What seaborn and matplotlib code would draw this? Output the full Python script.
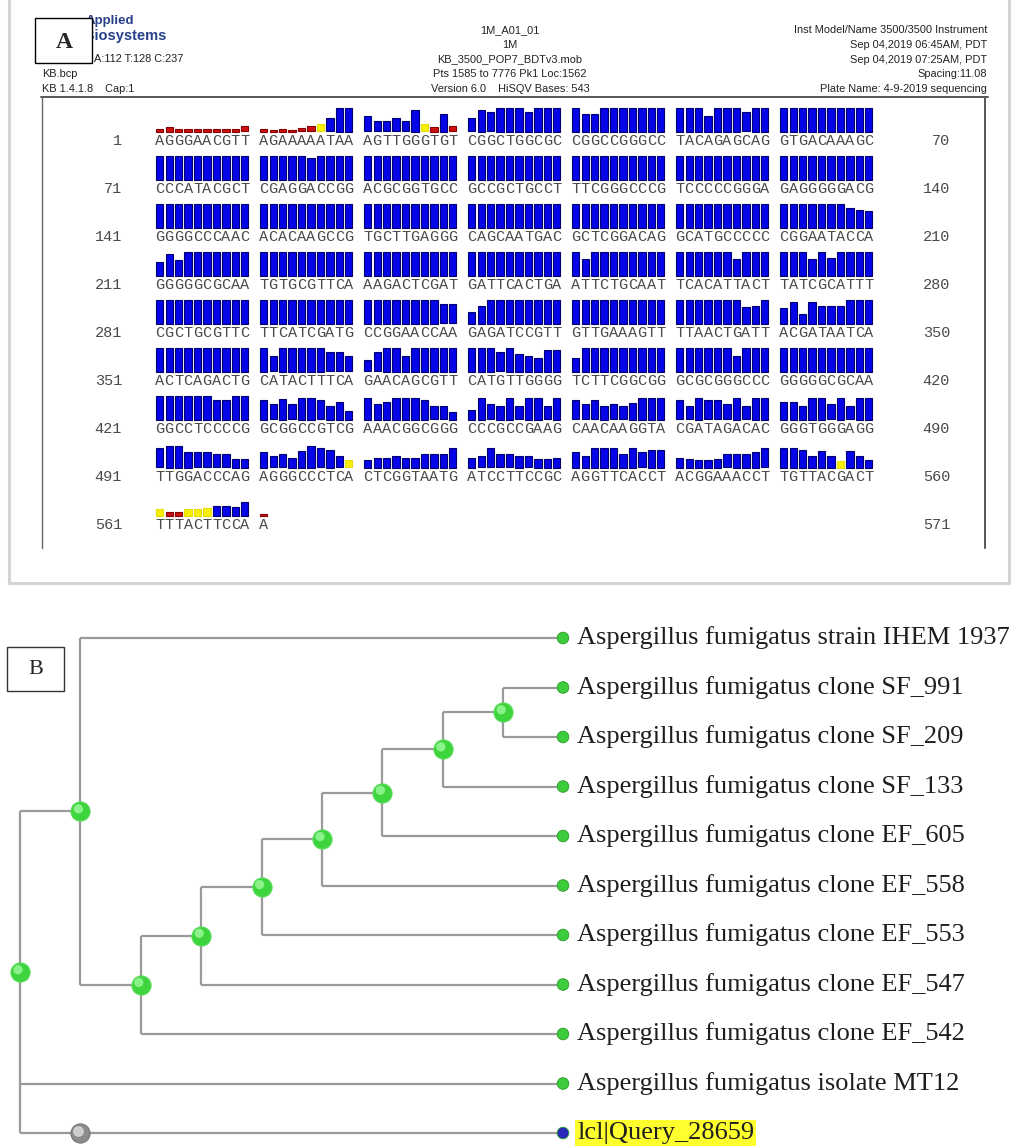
import numpy as np
import pandas as pd
import matplotlib
matplotlib.use("Agg")
import matplotlib.pyplot as plt
from matplotlib.patches import Rectangle
import seaborn as sns

# ------------------------------------------------------------------
# Panel A data: header texts, base calls and per-base quality values
# ------------------------------------------------------------------
header_left = ["A:112 T:128 C:237", "KB.bcp", "KB 1.4.1.8    Cap:1"]
header_center = ["1M_A01_01", "1M", "KB_3500_POP7_BDTv3.mob",
                 "Pts 1585 to 7776 Pk1 Loc:1562", "Version 6.0    HiSQV Bases: 543"]
header_right = ["Inst Model/Name 3500/3500 Instrument", "Sep 04,2019 06:45AM, PDT",
                "Sep 04,2019 07:25AM, PDT", "Spacing:11.08", "Plate Name: 4-9-2019 sequencing"]

seq_rows = [
    "AGGGAACGTT AGAAAAATAA AGTTGGGTGT CGGCTGGCGC CGGCCGGGCC TACAGAGCAG GTGACAAAGC",
    "CCCATACGCT CGAGGACCGG ACGCGGTGCC GCCGCTGCCT TTCGGGCCCG TCCCCCGGGA GAGGGGGACG",
    "GGGGCCCAAC ACACAAGCCG TGCTTGAGGG CAGCAATGAC GCTCGGACAG GCATGCCCCC CGGAATACCA",
    "GGGGGCGCAA TGTGCGTTCA AAGACTCGAT GATTCACTGA ATTCTGCAAT TCACATTACT TATCGCATTT",
    "CGCTGCGTTC TTCATCGATG CCGGAACCAA GAGATCCGTT GTTGAAAGTT TTAACTGATT ACGATAATCA",
    "ACTCAGACTG CATACTTTCA GAACAGCGTT CATGTTGGGG TCTTCGGCGG GCGCGGGCCC GGGGGCGCAA",
    "GGCCTCCCCG GCGGCCGTCG AAACGGCGGG CCCGCCGAAG CAACAAGGTA CGATAGACAC GGGTGGGAGG",
    "TTGGACCCAG AGGGCCCTCA CTCGGTAATG ATCCTTCCGC AGGTTCACCT ACGGAAACCT TGTTACGACT",
    "TTTACTTCCA A",
]
row_start = [1, 71, 141, 211, 281, 351, 421, 491, 561]
row_end = [70, 140, 210, 280, 350, 420, 490, 560, 571]

qv_001 = [7, 12, 7, 7, 7, 7, 7, 7, 7, 14,
          7, 5, 7, 5, 8, 14, 19, 33, 60, 60,
          38, 26, 26, 33, 26, 55, 18, 12, 45, 14,
          33, 55, 48, 60, 60, 60, 50, 60, 60, 60,
          60, 45, 45, 60, 60, 60, 60, 60, 60, 60,
          60, 60, 60, 40, 60, 60, 60, 48, 60, 60,
          60, 60, 60, 60, 60, 60, 60, 60, 60, 60]
qv_071 = [60] * 10 + [60, 60, 60, 60, 60, 55, 60, 60, 60, 60] + [60] * 50
qv_141 = [60] * 60 + [60, 60, 60, 60, 60, 60, 60, 50, 45, 42]
qv_211 = ([35, 55, 40, 60, 60, 60, 60, 60, 60, 60] + [60] * 30 +
          [60, 42, 60, 60, 60, 60, 60, 60, 60, 60] +
          [60, 60, 60, 60, 60, 60, 42, 60, 60, 60] +
          [60, 60, 60, 42, 60, 45, 60, 60, 60, 60])
qv_281 = ([60] * 20 +
          [60, 60, 60, 60, 60, 60, 60, 60, 48, 48] +
          [30, 45, 60, 60, 60, 60, 60, 60, 60, 60] +
          [60] * 10 +
          [60, 60, 60, 60, 60, 60, 60, 42, 45, 60] +
          [40, 55, 25, 55, 45, 45, 45, 60, 60, 60])
qv_351 = ([60] * 10 +
          [60, 38, 60, 60, 60, 60, 60, 48, 48, 38] +
          [28, 48, 60, 60, 40, 60, 60, 60, 60, 60] +
          [60, 60, 60, 48, 60, 45, 40, 35, 55, 55] +
          [35, 60, 60, 60, 60, 60, 60, 60, 60, 60] +
          [60, 60, 60, 60, 60, 60, 40, 60, 60, 60] +
          [60] * 10)
qv_421 = [60, 60, 60, 60, 60, 60, 50, 50, 60, 60,
          50, 38, 52, 38, 55, 55, 48, 35, 45, 22,
          55, 40, 45, 55, 55, 55, 50, 33, 33, 20,
          25, 55, 38, 35, 55, 33, 55, 55, 33, 55,
          48, 38, 48, 35, 38, 33, 42, 55, 55, 55,
          48, 33, 55, 48, 48, 38, 55, 33, 55, 55,
          45, 45, 35, 55, 55, 38, 55, 33, 55, 55]
qv_491 = [48, 55, 55, 40, 38, 38, 33, 33, 22, 22,
          40, 28, 33, 25, 42, 55, 48, 45, 28, 18,
          20, 25, 25, 30, 25, 25, 35, 35, 35, 50,
          25, 28, 48, 33, 33, 30, 28, 22, 22, 25,
          40, 30, 50, 50, 50, 35, 50, 38, 45, 45,
          25, 22, 20, 20, 21, 33, 35, 35, 40, 48,
          50, 50, 45, 30, 42, 30, 17, 42, 30, 20]
qv_561 = [16, 8, 8, 16, 17, 18, 25, 25, 21, 35,
          5]
qv_rows = [qv_001, qv_071, qv_141, qv_211, qv_281, qv_351, qv_421, qv_491, qv_561]

QV_RED = 15     # below -> red
QV_YELLOW = 20  # below -> yellow, otherwise blue

# ------------------------------------------------------------------
# Panel B data: cladogram
# ------------------------------------------------------------------
leaf_names = [
    "Aspergillus fumigatus strain IHEM 1937",
    "Aspergillus fumigatus clone SF_991",
    "Aspergillus fumigatus clone SF_209",
    "Aspergillus fumigatus clone SF_133",
    "Aspergillus fumigatus clone EF_605",
    "Aspergillus fumigatus clone EF_558",
    "Aspergillus fumigatus clone EF_553",
    "Aspergillus fumigatus clone EF_547",
    "Aspergillus fumigatus clone EF_542",
    "Aspergillus fumigatus isolate MT12",
    "lcl|Query_28659",
]
tree = [[0, [[[[[[[1, 2], 3], 4], 5], 6], 7], 8]], 9, 10]
query_leaf = 10

# ------------------------------------------------------------------
sns.set_theme(style="white")
plt.rcParams["font.family"] = ["Liberation Sans", "DejaVu Sans"]

W, H = 1012, 1147
fig = plt.figure(figsize=(W / 100, H / 100), dpi=100)
ax = fig.add_axes([0, 0, 1, 1])
ax.set_xlim(0, W)
ax.set_ylim(H, 0)
ax.axis("off")

# ---------------- Panel A frame & header ----------------
GRAY_FRAME = "#d4d4d4"
ax.plot([9, 9], [0, 583], color=GRAY_FRAME, lw=2.2)
ax.plot([9, 1009], [583, 583], color=GRAY_FRAME, lw=2.2)
ax.plot([1009, 1009], [0, 583], color=GRAY_FRAME, lw=2.2)

ax.plot([41, 988], [97, 97], color="#555555", lw=1.4)
ax.plot([42, 42], [97, 548], color="#666666", lw=1.0)
ax.plot([985, 985], [97, 548], color="#555555", lw=1.4)

t_app = ax.text(86, 21, "Applied", color="#27408b", fontsize=9.5, fontweight="bold",
                ha="left", va="center", zorder=2)
clip = Rectangle((0, 19.5), 300, 30, transform=ax.transData)
t_app.set_clip_path(clip)
ax.text(84, 36, "Biosystems", color="#27408b", fontsize=10.5, fontweight="bold",
        ha="left", va="center", zorder=2)
ax.add_patch(Rectangle((35, 18), 57, 45, facecolor="white", edgecolor="black",
                       lw=1.0, zorder=5))
ax.text(64, 42, "A", fontsize=17, fontweight="bold", family="Liberation Serif",
        ha="center", va="center", zorder=6)

hl_pos = [(94, 59), (42, 74), (42, 89)]
for (x, y), t in zip(hl_pos, header_left):
    ax.text(x, y, t, fontsize=7.9, ha="left", va="center", color="#222222")
for i, t in enumerate(header_center):
    ax.text(510, 30 + i * 14.8, t, fontsize=7.9, ha="center", va="center", color="#222222")
for i, t in enumerate(header_right):
    ax.text(987, 30 + i * 14.8, t, fontsize=7.9, ha="right", va="center", color="#222222")

# ---------------- Panel A bars & bases ----------------
seq = "".join(r.replace(" ", "") for r in seq_rows)
qv = np.concatenate([np.array(q) for q in qv_rows])
df = pd.DataFrame({"base": list(seq), "qv": qv})
df["idx"] = np.arange(len(df))
df["row"] = df["idx"] // 70
df["block"] = (df["idx"] % 70) // 10
df["pos"] = df["idx"] % 10

X0, BLOCK = 155.0, 104.0
PITCH = BLOCK / 11.0
ROW0, ROWSTEP = 141.0, 48.0
PX_PER_QV = 0.4

df["x"] = X0 + df["block"] * BLOCK + (df["pos"] + 0.5) * PITCH
df["ytext"] = ROW0 + df["row"] * ROWSTEP
df["ybase"] = df["ytext"] - 9.5
df["h"] = df["qv"] * PX_PER_QV
df["cls"] = np.where(df["qv"] < QV_RED, "red", np.where(df["qv"] < QV_YELLOW, "yellow", "blue"))

fills = {"blue": "#0505e8", "red": "#cc1010", "yellow": "#f7f000"}
edges = {"blue": "#00006e", "red": "#8a0000", "yellow": "#e8dc00"}
for cls, sub in df.groupby("cls"):
    ax.bar(sub["x"], sub["h"], bottom=sub["ybase"] - sub["h"], width=7.2,
           color=fills[cls], edgecolor=edges[cls], linewidth=0.8, zorder=3)

for _, r in df.iterrows():
    ax.text(r["x"], r["ytext"], r["base"], family="Liberation Mono", fontsize=11,
            ha="center", va="center", color="#4a4a4a")

for i, (s, e) in enumerate(zip(row_start, row_end)):
    y = ROW0 + i * ROWSTEP
    ax.text(122, y, str(s), family="Liberation Mono", fontsize=11, ha="right",
            va="center", color="#4a4a4a")
    ax.text(950, y, str(e), family="Liberation Mono", fontsize=11, ha="right",
            va="center", color="#4a4a4a")

# ---------------- Panel B tree ----------------
LEAF_Y0, LEAF_DY = 638.0, 49.5
ROOT_X, DEPTH_DX = 20.0, 60.4
LEAF_X = 563.0
LINE_C = "#9a9a9a"

segments = []
internal_nodes = []


def layout(node, depth):
    if isinstance(node, int):
        return LEAF_X, LEAF_Y0 + node * LEAF_DY
    x = ROOT_X + depth * DEPTH_DX
    kids = [layout(c, depth + 1) for c in node]
    ys = [k[1] for k in kids]
    y = (ys[0] + ys[-1]) / 2
    segments.append(((x, x), (ys[0], ys[-1])))
    for kx, ky in kids:
        segments.append(((x, kx), (ky, ky)))
    internal_nodes.append((x, y))
    return x, y


layout(tree, 0)
for xs, ys in segments:
    ax.plot(xs, ys, color=LINE_C, lw=1.6, solid_capstyle="butt", zorder=2)

nodes_df = pd.DataFrame(internal_nodes, columns=["x", "y"])
sns.scatterplot(data=nodes_df, x="x", y="y", s=190, color="#3ed43e", edgecolor="#5bdc5b",
                linewidth=0.8, ax=ax, zorder=4, legend=False)
sns.scatterplot(x=nodes_df["x"] - 2, y=nodes_df["y"] - 2.5, s=45, color="#9dfa9d",
                edgecolor="none", alpha=0.8, ax=ax, zorder=5, legend=False)

# extra grey node on query branch
qy = LEAF_Y0 + query_leaf * LEAF_DY
ax.scatter([ROOT_X + DEPTH_DX], [qy], s=190, color="#8c8c8c", edgecolor="#777777",
           linewidth=0.8, zorder=4)
ax.scatter([ROOT_X + DEPTH_DX - 2], [qy - 2.5], s=45, color="#dddddd", alpha=0.8, zorder=5)

leaf_df = pd.DataFrame({"x": LEAF_X, "y": LEAF_Y0 + np.arange(len(leaf_names)) * LEAF_DY,
                        "kind": ["query" if i == query_leaf else "ref" for i in range(len(leaf_names))]})
sns.scatterplot(data=leaf_df, x="x", y="y", hue="kind",
                palette={"ref": "#3ccc3c", "query": "#2a2ab8"}, s=70,
                edgecolor="#2b9a2b", linewidth=0.6, ax=ax, zorder=6, legend=False)

for i, name in enumerate(leaf_names):
    y = LEAF_Y0 + i * LEAF_DY
    kw = {}
    if i == query_leaf:
        kw["bbox"] = dict(boxstyle="square,pad=0.08", facecolor="#ffff2e", edgecolor="none")
    ax.text(577, y, name, family="Liberation Serif", fontsize=19, ha="left",
            va="center", color="#1e1e1e", zorder=7, **kw)

ax.add_patch(Rectangle((7, 647), 57, 44, facecolor="white", edgecolor="#333333",
                       lw=1.0, zorder=5))
ax.text(36, 670, "B", fontsize=16, family="Liberation Serif", ha="center",
        va="center", zorder=6)

ax.set_xlim(0, W)
ax.set_ylim(H, 0)
ax.axis("off")
fig.savefig("out.png", dpi=100, facecolor="white")
